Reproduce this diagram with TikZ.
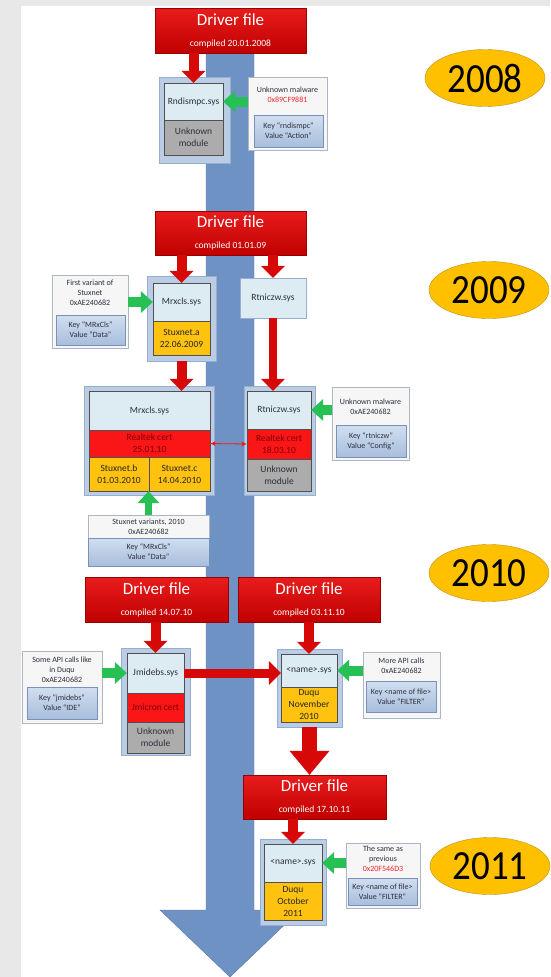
\documentclass[tikz,border=0pt]{standalone}
\usepackage{fontspec}
\setmainfont{Carlito}
\usepackage{graphicx}
\usetikzlibrary{arrows.meta,shapes.geometric}

\definecolor{pagegrey}{RGB}{232,232,232}
\definecolor{shaftblue}{RGB}{111,146,196}
\definecolor{shaftedge}{RGB}{88,118,168}
\definecolor{drvred}{RGB}{214,8,8}
\definecolor{drvtop}{RGB}{232,28,28}
\definecolor{drvbot}{RGB}{192,0,0}
\definecolor{drvedge}{RGB}{150,0,0}
\definecolor{frameblue}{RGB}{186,205,229}
\definecolor{frameedge}{RGB}{150,174,208}
\definecolor{syslight}{RGB}{221,236,243}
\definecolor{celledge}{RGB}{80,80,80}
\definecolor{unkgrey}{RGB}{172,172,172}
\definecolor{certred}{RGB}{250,22,22}
\definecolor{certtext}{RGB}{125,0,0}
\definecolor{stxyellow}{RGB}{255,194,14}
\definecolor{infofill}{RGB}{246,246,247}
\definecolor{infoedge}{RGB}{172,182,198}
\definecolor{keytop}{RGB}{208,222,240}
\definecolor{keybot}{RGB}{168,190,220}
\definecolor{keyedge}{RGB}{120,146,186}
\definecolor{arrgreen}{RGB}{38,192,84}
\definecolor{hexred}{RGB}{240,40,40}
\definecolor{yeargold}{RGB}{255,192,0}
\definecolor{yearedge}{RGB}{190,145,20}
\definecolor{txt}{RGB}{45,48,60}

\tikzstyle{drvbox}=[draw=drvedge, top color=drvtop, bottom color=drvbot, text=white, align=center, inner sep=0pt, font=\fontsize{9.5}{11}\selectfont]
\tikzstyle{modframe}=[draw=frameedge, fill=frameblue, inner sep=0pt]
\tikzstyle{syscell}=[draw=celledge, line width=0.4pt, fill=syslight, text=txt, inner sep=0pt, align=center, font=\fontsize{9.5}{12}\selectfont]
\tikzstyle{unkcell}=[syscell, fill=unkgrey]
\tikzstyle{certcell}=[syscell, fill=certred, text=certtext]
\tikzstyle{stxcell}=[syscell, fill=stxyellow, text=black!85]
\tikzstyle{rtbox}=[syscell, draw=frameedge]
\tikzstyle{infobox}=[draw=infoedge, fill=infofill, inner sep=0pt]
\tikzstyle{infotext}=[text=txt, align=center, inner sep=0pt, font=\fontsize{8}{10}\selectfont]
\tikzstyle{keybox}=[draw=keyedge, top color=keytop, bottom color=keybot, text=txt, align=center, inner sep=0pt, font=\fontsize{8}{10}\selectfont]
\tikzstyle{yearoval}=[ellipse, draw=yearedge, fill=yeargold, inner sep=0pt, minimum width=120, minimum height=57, font=\fontsize{37}{37}\selectfont]
\tikzstyle{redarr}=[draw=drvred, line width=10pt, -{Triangle[width=24pt,length=12pt,line width=0pt]}]
\tikzstyle{bigarr}=[draw=drvred, line width=15pt, -{Triangle[width=40pt,length=24pt,line width=0pt]}]
\tikzstyle{greenarr}=[draw=arrgreen, line width=10pt, -{Triangle[width=22pt,length=12pt,line width=0pt]}]
\tikzstyle{certarr}=[draw=certred, line width=0.8pt, {Latex[length=5pt,width=5pt]}-{Latex[length=5pt,width=5pt]}]

\newcommand{\drvtext}[1]{{\fontsize{17}{17}\selectfont Driver file}\\[10pt]compiled #1}
\newcommand{\yeartext}[1]{\scalebox{1}[1.12]{#1}}

\begin{document}
\begin{tikzpicture}[x=1pt,y=-1pt]
\useasboundingbox (0,0) rectangle (550,977);
\fill[pagegrey] (0,0) rectangle (550,977);
\fill[white] (21,6) rectangle (550,977);
\filldraw[fill=shaftblue, draw=shaftedge] (206,20) -- (254,20) -- (254,910) -- (300,910) -- (230,977) -- (160,910) -- (206,910) -- cycle;

% 2008
\node[drvbox, minimum width=151, minimum height=45] at (230.5,30.5) (df1) {\drvtext{20.01.2008}};
\node[modframe, minimum width=71, minimum height=86] at (194.5,120) (m1) {};
\node[syscell, minimum width=59, minimum height=37] at (193.5,101.5) (m1s) {Rndismpc.sys};
\node[unkcell, minimum width=59, minimum height=35] at (193.5,137.5) (m1u) {Unknown\\module};
\node[infobox, minimum width=79, minimum height=73] at (287.5,113.5) (i1) {};
\node[infotext] at (287.5,95) (i1t) {Unknown malware\\\textcolor{hexred}{0x89CF9881}};
\node[keybox, minimum width=69, minimum height=32] at (288.5,131) (i1k) {Key “rndismpc”\\Value “Action”};
\node[yearoval] at (485,78) (y1) {\yeartext{2008}};
\draw (df1.south -| m1s.north) edge[redarr] (m1s.north);
\draw (i1.west |- m1s.east) edge[greenarr] (m1s.east);

% 2009
\node[drvbox, minimum width=151, minimum height=44] at (230.5,233) (df2) {\drvtext{01.01.09}};
\node[modframe, minimum width=69, minimum height=85] at (181.5,318.5) (m2) {};
\node[syscell, minimum width=57, minimum height=38] at (181.5,302) (m2s) {Mrxcls.sys};
\node[stxcell, minimum width=57, minimum height=34] at (181.5,338) (m2a) {Stuxnet.a\\22.06.2009};
\node[infobox, minimum width=76, minimum height=73] at (90,311.5) (i2) {};
\node[infotext] at (90,293) (i2t) {First variant of\\Stuxnet\\0xAE240682};
\node[keybox, minimum width=69, minimum height=30] at (90.5,330) (i2k) {Key “MRxCls”\\Value “Data”};
\node[rtbox, minimum width=66, minimum height=40] at (273,298) (r1) {Rtniczw.sys};
\node[yearoval] at (489,290) (y2) {\yeartext{2009}};

\node[modframe, minimum width=130, minimum height=109] at (149,440.5) (m3) {};
\node[syscell, minimum width=121, minimum height=39] at (149.5,410.5) (m3s) {Mrxcls.sys};
\node[certcell, minimum width=121, minimum height=27] at (149.5,443.5) (m3c) {Realtek cert\\25.01.10};
\node[stxcell, minimum width=60, minimum height=34] at (119,474) (m3b) {Stuxnet.b\\01.03.2010};
\node[stxcell, minimum width=61, minimum height=34] at (179.5,474) (m3x) {Stuxnet.c\\14.04.2010};
\node[modframe, minimum width=71, minimum height=109] at (279.5,440.5) (r2) {};
\node[syscell, minimum width=64, minimum height=38] at (279,410) (r2s) {Rtniczw.sys};
\node[certcell, minimum width=64, minimum height=30] at (279,444) (r2c) {Realtek cert\\18.03.10};
\node[unkcell, minimum width=64, minimum height=32] at (279,475) (r2u) {Unknown\\module};
\node[infobox, minimum width=77, minimum height=73] at (370.5,423.5) (i3) {};
\node[infotext] at (370.5,407) (i3t) {Unknown malware\\0xAE240682};
\node[keybox, minimum width=70, minimum height=32] at (371,441) (i3k) {Key “rtniczw”\\Value “Config”};
\node[infobox, infotext, minimum width=121, minimum height=23] at (148.5,526.5) (i4) {Stuxnet variants, 2010\\0xAE240682};
\node[keybox, minimum width=121, minimum height=28] at (148.5,552) (i4k) {Key “MRxCls”\\Value “Data”};

\draw (df2.south -| m2s.north) edge[redarr] (m2s.north);
\draw (df2.south -| r1.north) edge[redarr] (r1.north);
\draw (i2.east |- m2s.west) edge[greenarr] (m2s.west);
\draw (m2.south) edge[redarr] (m2.south |- m3s.north);
\draw (r1.south) edge[redarr, line width=8pt] (r1.south |- r2s.north);
\draw (m3c.east) edge[certarr] (r2c.west);
\draw (i3.west |- r2s.east) edge[greenarr] (r2s.east);
\draw (i4.north) edge[greenarr, line width=7pt] (i4.north |- m3b.south);

% 2010
\node[drvbox, minimum width=143, minimum height=45] at (156.5,599.5) (df3) {\drvtext{14.07.10}};
\node[drvbox, minimum width=142, minimum height=45] at (309,599.5) (df4) {\drvtext{03.11.10}};
\node[modframe, minimum width=69, minimum height=107] at (155.5,701.5) (j1) {};
\node[syscell, minimum width=57, minimum height=40] at (155.5,673) (j1s) {Jmidebs.sys};
\node[certcell, minimum width=57, minimum height=29] at (155.5,707.5) (j1c) {Jmicron cert};
\node[unkcell, minimum width=57, minimum height=31] at (155.5,737.5) (j1u) {Unknown\\module};
\node[infobox, minimum width=80, minimum height=72] at (62,687) (i5) {};
\node[infotext] at (62,670) (i5t) {Some API calls like\\in Duqu\\0xAE240682};
\node[keybox, minimum width=70, minimum height=32] at (62,703) (i5k) {Key “jmidebs”\\Value “IDE”};
\node[modframe, minimum width=65, minimum height=78] at (309.5,688) (n1) {};
\node[syscell, minimum width=56, minimum height=33] at (309,670.5) (n1s) {<name>.sys};
\node[stxcell, minimum width=56, minimum height=35] at (309,704.5) (n1d) {Duqu\\November\\2010};
\node[infobox, minimum width=77, minimum height=66] at (401.5,685) (i6) {};
\node[infotext] at (401.5,665.5) (i6t) {More API calls\\0xAE240682};
\node[keybox, minimum width=70, minimum height=31] at (401,696.5) (i6k) {Key <name of file>\\Value “FILTER”};
\node[yearoval] at (489,573) (y3) {\yeartext{2010}};

\draw (df3.south -| j1s.north) edge[redarr] (j1s.north);
\draw (df4.south -| n1s.north) edge[redarr] (n1s.north);
\draw (i5.east |- j1s.west) edge[greenarr] (j1s.west);
\draw (j1s.east) edge[redarr, line width=9pt] (j1s.east -| n1s.west);
\draw (i6.west |- n1s.east) edge[greenarr] (n1s.east);

% 2011
\node[drvbox, minimum width=143, minimum height=44] at (314.5,797) (df5) {\drvtext{17.10.11}};
\node[modframe, minimum width=66, minimum height=86] at (293,882) (n2) {};
\node[syscell, minimum width=58, minimum height=38] at (293,863) (n2s) {<name>.sys};
\node[stxcell, minimum width=58, minimum height=38] at (293,901) (n2d) {Duqu\\October\\2011};
\node[infobox, minimum width=74, minimum height=65] at (383,875.5) (i7) {};
\node[infotext] at (383,859) (i7t) {The same as\\previous\\\textcolor{hexred}{0x20F546D3}};
\node[keybox, minimum width=69, minimum height=27] at (382.5,891.5) (i7k) {Key <name of file>\\Value “FILTER”};
\node[yearoval] at (490,866) (y4) {\yeartext{2011}};

\draw (n1.south) edge[bigarr] (n1.south |- df5.north);
\draw (df5.south -| n2s.north) edge[redarr] (n2s.north);
\draw (i7.west |- n2s.east) edge[greenarr] (n2s.east);
\end{tikzpicture}
\end{document}
